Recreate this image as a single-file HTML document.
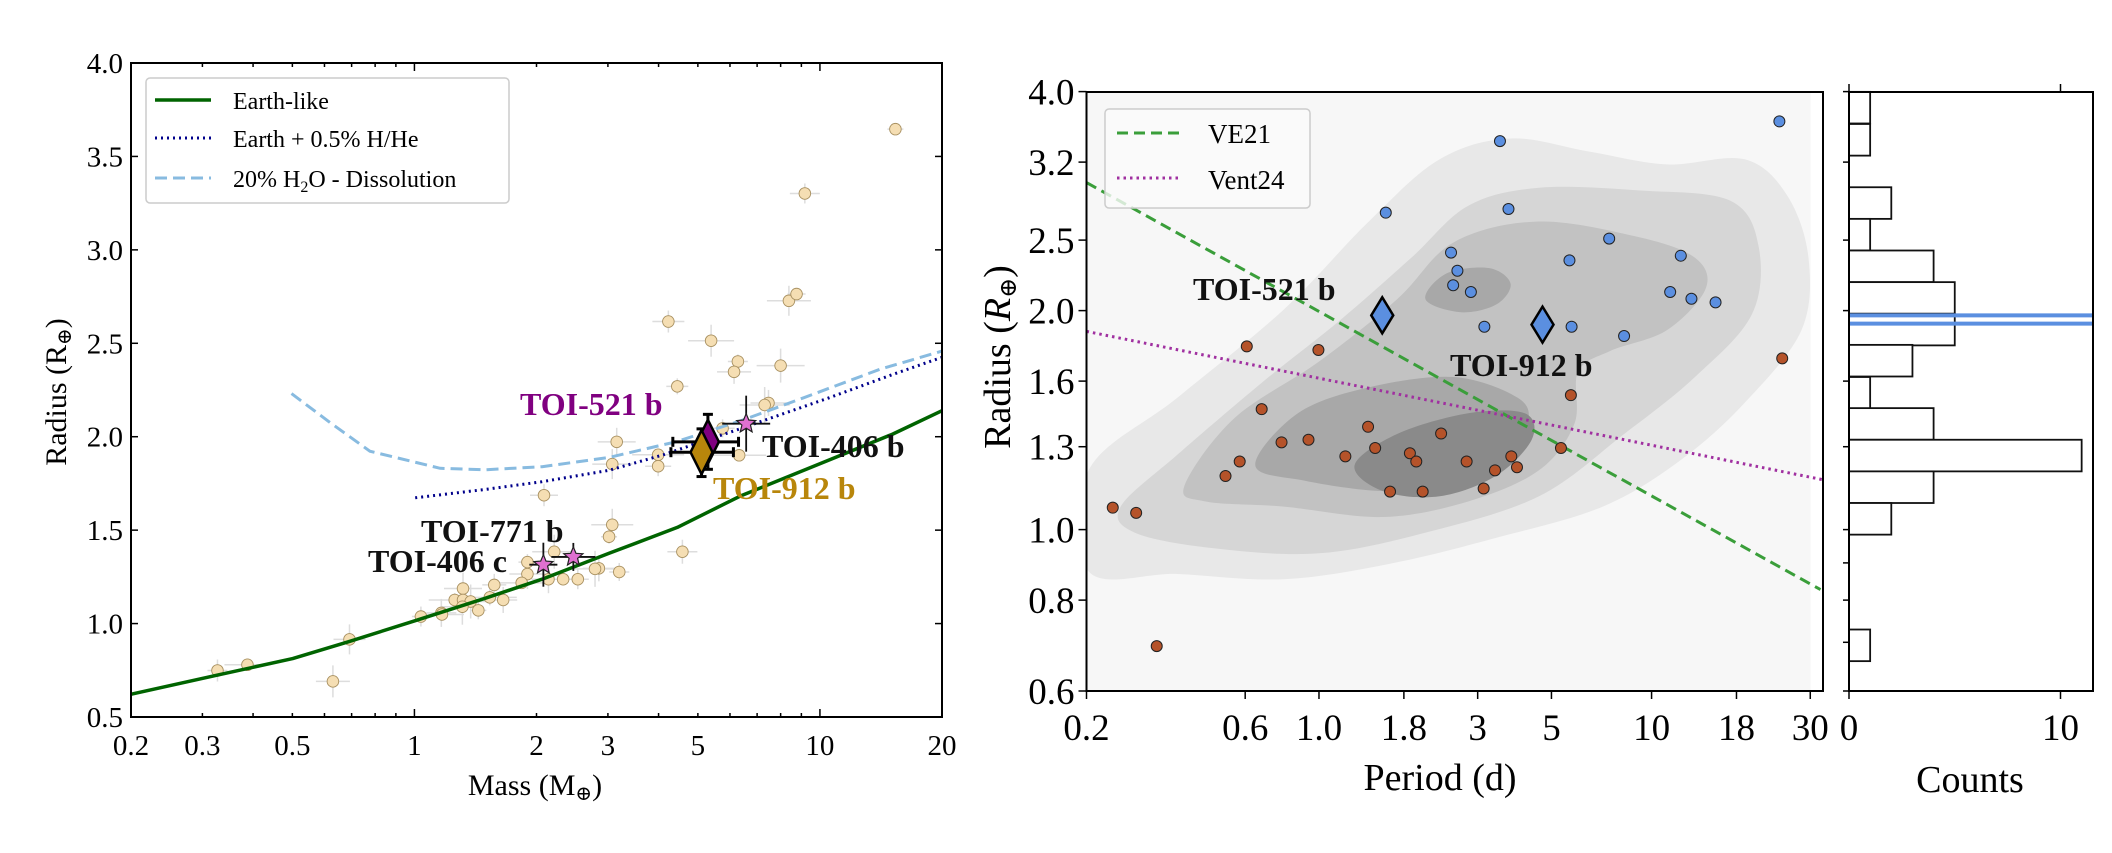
<!DOCTYPE html>
<html><head><meta charset="utf-8">
<style>
html,body{margin:0;padding:0;background:#fff;}
svg{display:block;font-family:"Liberation Serif","DejaVu Serif",serif;}
</style></head>
<body>
<svg id="s" width="2112" height="853" viewBox="0 0 2112 853" xmlns="http://www.w3.org/2000/svg">
<rect width="2112" height="853" fill="#fff"/>
</svg>
<script>
const S=document.getElementById('s');const NS='http://www.w3.org/2000/svg';
function el(t,a,p){const e=document.createElementNS(NS,t);for(const k in a)e.setAttribute(k,a[k]);(p||S).appendChild(e);return e;}
function tx(x,y,s,a){const e=el('text',Object.assign({x:x,y:y},a||{}));e.textContent=s;return e;}
function sp(parent,s,a){const e=el('tspan',a||{},parent);e.textContent=s;return e;}
const L=(p)=>[p[0]/1.568,p[1]/1.9287+40];
const R=(p)=>[1000+p[0]/1.4101,40+p[1]/1.9287];
function pts(arr,f){return arr.map(p=>f(p).map(v=>v.toFixed(1)).join(',')).join(' ');}
function smooth(arr,f){const q=arr.map(f);const n=q.length;let d='M'+q[0][0].toFixed(1)+','+q[0][1].toFixed(1);
 for(let i=0;i<n;i++){const p0=q[(i-1+n)%n],p1=q[i],p2=q[(i+1)%n],p3=q[(i+2)%n];
  const c1=[p1[0]+(p2[0]-p0[0])/6,p1[1]+(p2[1]-p0[1])/6],c2=[p2[0]-(p3[0]-p1[0])/6,p2[1]-(p3[1]-p1[1])/6];
  d+=` C${c1[0].toFixed(1)},${c1[1].toFixed(1)} ${c2[0].toFixed(1)},${c2[1].toFixed(1)} ${p2[0].toFixed(1)},${p2[1].toFixed(1)}`;}
 return d+'Z';}

// ================= LEFT PANEL =================
const ax0=131,ax1=942,ay0=63,ay1=717;
const lp=[[1404,172],[1262,296],[1237,503],[1249,490],[1048,543],[1115,580],[1157,620],[1151,640],[1224,628],[1062,668],[1205,700],[1199,704],[1133,749],[967,775],[1032,800],[1032,822],[960,818],[1159,801],[853,878],[960,935],[955,958],[1070,987],[869,987],[827,1007],[939,1019],[933,1020],[971,1026],[860,1040],[883,1040],[906,1040],[827,1030],[818,1047],[775,1051],[726,1058],[713,1080],[726,1080],[738,1083],[768,1075],[789,1080],[725,1093],[750,1100],[692,1105],[693,1108],[660,1112],[548,1156],[388,1205],[341,1216],[522,1237]];
lp.forEach((p,i)=>{const [x,y]=L(p);const ex=8+((i*7)%20),ey=5+((i*5)%14);
 el('line',{x1:x-ex,y1:y,x2:x+ex,y2:y,stroke:'#ddd','stroke-width':1.5});
 el('line',{x1:x,y1:y-ey,x2:x,y2:y+ey,stroke:'#ddd','stroke-width':1.5});});
lp.forEach(p=>{const [x,y]=L(p);el('circle',{cx:x,cy:y,r:5.8,fill:'#f5deb3',stroke:'#a89060','stroke-width':0.9});});
el('polyline',{points:pts([[205,1262],[341,1225],[459,1193],[548,1160],[651,1120],[760,1077],[850,1040],[955,990],[1062,940],[1160,880],[1300,810],[1400,760],[1477,715]],L),fill:'none',stroke:'#006400','stroke-width':3.5,'stroke-linejoin':'round'});
el('polyline',{points:pts([[651,883],[760,867],[850,852],[955,830],[1040,800],[1100,775],[1160,750],[1230,720],[1300,690],[1400,645],[1477,612]],L),fill:'none',stroke:'#00008b','stroke-width':3,'stroke-dasharray':'2,4'});
el('polyline',{points:pts([[457,682],[520,740],[580,793],[690,826],[760,829],[850,823],[955,805],[1060,775],[1160,735],[1260,690],[1380,635],[1477,600]],L),fill:'none',stroke:'#88bbe0','stroke-width':3,'stroke-dasharray':'12,6'});
function eb(c,hx0,hx1,vy0,vy1,w){const [x,y]=L(c);const a=L([hx0,0])[0],b=L([hx1,0])[0],t=L([0,vy0])[1],u=L([0,vy1])[1];
 el('line',{x1:a,y1:y,x2:b,y2:y,stroke:'#000','stroke-width':w});el('line',{x1:x,y1:t,x2:x,y2:u,stroke:'#000','stroke-width':w});
 el('line',{x1:a,y1:y-5,x2:a,y2:y+5,stroke:'#000','stroke-width':w});el('line',{x1:b,y1:y-5,x2:b,y2:y+5,stroke:'#000','stroke-width':w});
 el('line',{x1:x-5,y1:t,x2:x+5,y2:t,stroke:'#000','stroke-width':w});el('line',{x1:x-5,y1:u,x2:x+5,y2:u,stroke:'#000','stroke-width':w});}
eb([1110,775],1055,1158,722,828,3);
eb([1100,795],1052,1150,750,842,3);
function diamond(c,hw,hh,fill,f){const [x,y]=f(c);el('polygon',{points:`${x},${y-hh} ${x+hw},${y} ${x},${y+hh} ${x-hw},${y}`,fill:fill,stroke:'#000','stroke-width':2.5});}
diamond([1110,775],11,22,'#800080',L);
diamond([1100,795],11,22,'#b8860b',L);
function star(c,r,fill){const [x,y]=L(c);let s='';for(let i=0;i<10;i++){const rr=i%2?r*0.45:r;const a=-Math.PI/2+i*Math.PI/5;s+=(x+rr*Math.cos(a)).toFixed(1)+','+(y+rr*Math.sin(a)).toFixed(1)+' ';}
 el('polygon',{points:s,fill:fill,stroke:'#222','stroke-width':1.2});}
function ebs(c,dx,dy){const [x,y]=L(c);el('line',{x1:x-dx,y1:y,x2:x+dx,y2:y,stroke:'#111','stroke-width':1.8});el('line',{x1:x,y1:y-dy,x2:x,y2:y+dy,stroke:'#111','stroke-width':1.8});}
ebs([1170,740],24,28);ebs([852,1012],14,22);ebs([899,997],22,14);
star([1170,740],10,'#e070d0');star([852,1012],10,'#e070d0');star([899,997],10,'#e070d0');
const bl={'font-weight':'bold','font-size':'32px'};
tx(520,415,'TOI-521 b',Object.assign({fill:'#800080'},bl));
tx(762,457,'TOI-406 b',Object.assign({fill:'#111'},bl));
tx(713,499,'TOI-912 b',Object.assign({fill:'#b8860b'},bl));
tx(421,542,'TOI-771 b',Object.assign({fill:'#111'},bl));
tx(368,572,'TOI-406 c',Object.assign({fill:'#111'},bl));
el('rect',{x:ax0,y:ay0,width:ax1-ax0,height:ay1-ay0,fill:'none',stroke:'#000','stroke-width':2});
for(let i=0;i<=7;i++){const v=0.5+i*0.5;const y=ay1-(v-0.5)/3.5*(ay1-ay0);
 el('line',{x1:ax0,y1:y,x2:ax0+7,y2:y,stroke:'#000','stroke-width':1.5});el('line',{x1:ax1,y1:y,x2:ax1-7,y2:y,stroke:'#000','stroke-width':1.5});
 tx(ax0-8,y+10,v.toFixed(1),{'font-size':'29px','text-anchor':'end'});}
const lx=v=>ax0+Math.log10(v/0.2)/2*(ax1-ax0);
[0.2,0.3,0.4,0.5,0.6,0.7,0.8,0.9,1,2,3,4,5,6,7,8,9,10,20].forEach(v=>{const x=lx(v);const maj=[1,10].includes(v);const len=maj?8:4;
 el('line',{x1:x,y1:ay1,x2:x,y2:ay1-len,stroke:'#000','stroke-width':1.5});el('line',{x1:x,y1:ay0,x2:x,y2:ay0+len,stroke:'#000','stroke-width':1.5});});
[0.2,0.3,0.5,1,2,3,5,10,20].forEach(v=>tx(lx(v),ay1+38,String(v),{'font-size':'29px','text-anchor':'middle'}));
const mt=tx(535,795,'Mass (M',{'font-size':'30px','text-anchor':'middle'});sp(mt,'⊕',{'font-size':'20px',dy:5});sp(mt,')',{dy:-5});
const rt=tx(0,0,'Radius (R',{'font-size':'30px','text-anchor':'middle',transform:'translate(66,392) rotate(-90)'});sp(rt,'⊕',{'font-size':'20px',dy:5});sp(rt,')',{dy:-5});
el('rect',{x:146,y:78,width:363,height:125,rx:4,fill:'#fff','fill-opacity':0.85,stroke:'#ccc','stroke-width':1.5});
el('line',{x1:155,y1:100,x2:211,y2:100,stroke:'#006400','stroke-width':3.5});
el('line',{x1:155,y1:138,x2:211,y2:138,stroke:'#00008b','stroke-width':3,'stroke-dasharray':'2,4'});
el('line',{x1:155,y1:178,x2:211,y2:178,stroke:'#88bbe0','stroke-width':3,'stroke-dasharray':'12,6'});
tx(233,109,'Earth-like',{'font-size':'24px'});
tx(233,147,'Earth + 0.5% H/He',{'font-size':'24px'});
const t3=tx(233,187,'20% H',{'font-size':'24px'});sp(t3,'2',{'font-size':'16px',dy:5});sp(t3,'O - Dissolution',{dy:-5});

// ================= RIGHT PANEL =================
const bx0=1086.5,bx1=1823,by0=92,by1=691;
el('rect',{x:bx0,y:by0,width:(R([1143,0])[0]-bx0),height:by1-by0,fill:'#f7f7f7'});
const lv1=[[125,1025],[125,830],[250,690],[400,520],[520,350],[620,230],[720,190],[830,215],[940,240],[1050,230],[1110,300],[1140,420],[1130,560],[1050,700],[960,810],[850,900],[700,960],[550,1010],[400,1040],[250,1030]];
const lv2=[[170,900],[250,800],[370,660],[480,540],[580,420],[660,320],[760,285],[900,290],[1030,310],[1070,400],[1060,530],[980,650],[880,760],[760,880],[600,950],[450,990],[300,980],[190,950]];
const lv3=[[260,860],[330,730],[450,620],[560,500],[640,390],[760,350],[900,380],[980,420],[995,480],[940,560],[860,600],[815,640],[810,740],[760,830],[660,890],[540,920],[400,900],[290,890]];
const lv4=[[360,820],[420,720],[520,670],[640,650],[730,690],[745,740],[720,810],[640,860],[540,870],[430,850]];
const lv4b=[[600,500],[630,450],[690,440],[720,470],[700,510],[650,525]];
const lv5=[[500,820],[560,760],[660,720],[740,720],[750,770],[700,840],[620,880],[540,870]];
[[lv1,'#e8e8e8'],[lv2,'#d6d6d6'],[lv3,'#c2c2c2'],[lv4,'#a8a8a8'],[lv4b,'#a8a8a8'],[lv5,'#8a8a8a']].forEach(([a,c])=>el('path',{d:smooth(a,R),fill:c}));
// clip overflow of outer contour at left edge
el('rect',{x:bx0-40,y:by0,width:39,height:by1-by0,fill:'#fff'});
el('line',{x1:R([122,275])[0],y1:R([122,275])[1],x2:R([1157,1060])[0],y2:R([1157,1060])[1],stroke:'#3a9e3a','stroke-width':3,'stroke-dasharray':'11,6'});
el('line',{x1:R([122,562])[0],y1:R([122,562])[1],x2:R([1160,848])[0],y2:R([1160,848])[1],stroke:'#a030a0','stroke-width':3,'stroke-dasharray':'2.5,4'});
const bp=[[1099,157],[705,195],[544,333],[717,326],[859,383],[636,410],[803,425],[960,416],[645,445],[639,473],[664,486],[945,486],[975,499],[1009,506],[683,553],[806,553],[880,571]];
const op=[[348,591],[449,598],[1103,614],[805,685],[369,712],[519,746],[622,759],[397,776],[435,771],[529,787],[578,797],[791,787],[487,803],[587,813],[658,813],[721,803],[338,813],[729,824],[698,830],[318,841],[550,871],[596,871],[682,865],[159,902],[192,912],[221,1169]];
bp.forEach(p=>{const [x,y]=R(p);el('circle',{cx:x,cy:y,r:5.5,fill:'#5b8fe0',stroke:'#222','stroke-width':1});});
op.forEach(p=>{const [x,y]=R(p);el('circle',{cx:x,cy:y,r:5.5,fill:'#b5532a',stroke:'#222','stroke-width':1});});
diamond([539,531],11,18,'#5b8fe0',R);diamond([765,549],11,18,'#5b8fe0',R);
const bl2={'font-weight':'bold','font-size':'32px',fill:'#111'};
tx(1193,300,'TOI-521 b',bl2);tx(1450,376,'TOI-912 b',bl2);
el('rect',{x:bx0,y:by0,width:bx1-bx0,height:by1-by0,fill:'none',stroke:'#000','stroke-width':2});
el('rect',{x:1105,y:109,width:205,height:99,rx:4,fill:'#fafafa','fill-opacity':0.8,stroke:'#ccc','stroke-width':1.5});
el('line',{x1:1117,y1:133,x2:1183,y2:133,stroke:'#3a9e3a','stroke-width':3,'stroke-dasharray':'11,6'});
el('line',{x1:1117,y1:178,x2:1178,y2:178,stroke:'#a030a0','stroke-width':3,'stroke-dasharray':'2.5,4'});
tx(1208,143,'VE21',{'font-size':'27px'});tx(1208,189,'Vent24',{'font-size':'27px'});
const px=v=>bx0+Math.log10(v/0.2)*332.6;
const py=v=>by1-Math.log10(v/0.6)*727.5;
[0.2,0.6,1.0,1.8,3,5,10,18,30].forEach(v=>{const x=px(v);el('line',{x1:x,y1:by1,x2:x,y2:by1+8,stroke:'#000','stroke-width':1.5});
 tx(x,by1+49,v===1?'1.0':String(v),{'font-size':'37px','text-anchor':'middle'});});
[0.6,0.8,1.0,1.3,1.6,2.0,2.5,3.2,4.0].forEach(v=>{const y=py(v);el('line',{x1:bx0,y1:y,x2:bx0-8,y2:y,stroke:'#000','stroke-width':1.5});
 tx(bx0-12,y+13,v.toFixed(1),{'font-size':'37px','text-anchor':'end'});});
tx(1440,790,'Period (d)',{'font-size':'38px','text-anchor':'middle'});
const ry=tx(0,0,'Radius (',{'font-size':'38px','text-anchor':'middle',transform:'translate(1010,357) rotate(-90)'});
sp(ry,'R',{'font-style':'italic'});sp(ry,'⊕',{'font-size':'24px',dy:6});sp(ry,')',{dy:-6});
const hx0=1849,hx1=2093;const cs=21.15;
const bins=[[100,1],[162,1],[284,2],[345,1],[406,4],[467,5],[528,5],[588,3],[650,1],[710,4],[771,11],[832,4],[893,2],[1137,1]];
bins.forEach(([zy,c])=>{const y=40+zy/1.9287;el('rect',{x:hx0,y:y,width:c*cs,height:61/1.9287,fill:'#fff',stroke:'#111','stroke-width':1.8});});
el('line',{x1:hx0,y1:40+531/1.9287,x2:hx1,y2:40+531/1.9287,stroke:'#5b8fe0','stroke-width':4});
el('line',{x1:hx0,y1:40+547/1.9287,x2:hx1,y2:40+547/1.9287,stroke:'#5b8fe0','stroke-width':4});
el('rect',{x:hx0,y:by0,width:hx1-hx0,height:by1-by0,fill:'none',stroke:'#000','stroke-width':2});
[0.6,0.7,0.8,0.9,1.0,1.3,1.6,2.0,2.5,3.2,4.0].forEach(v=>{const y=py(v);el('line',{x1:hx0,y1:y,x2:hx0-6,y2:y,stroke:'#000','stroke-width':1.5});});
[0,10].forEach(c=>{const x=hx0+c*cs;el('line',{x1:x,y1:by1,x2:x,y2:by1+8,stroke:'#000','stroke-width':1.5});el('line',{x1:x,y1:by0,x2:x,y2:by0-8,stroke:'#000','stroke-width':1.5});
 tx(x,by1+49,String(c),{'font-size':'37px','text-anchor':'middle'});});
tx(1970,792,'Counts',{'font-size':'38px','text-anchor':'middle'});
</script>
</body></html>
